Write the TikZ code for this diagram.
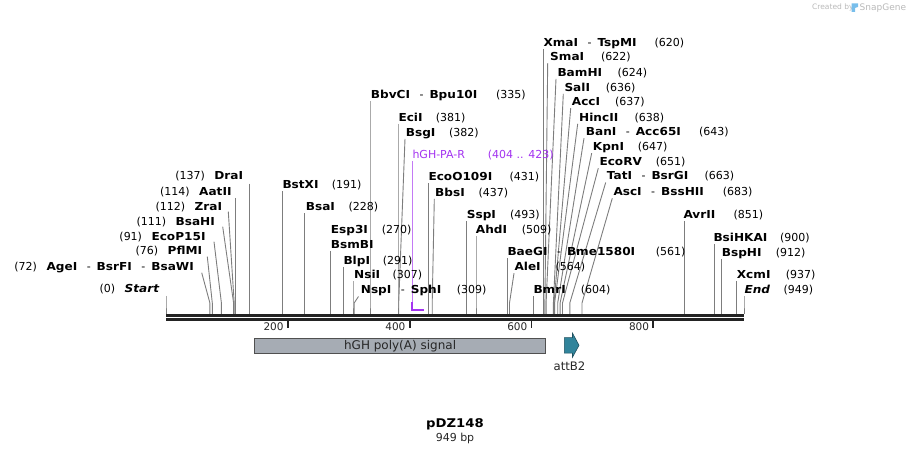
\documentclass[tikz,border=0pt]{standalone}
\usepackage{fontspec}
\setmainfont{DejaVu Sans}
\newfontfamily\namefamily[FakeStretch=1.1]{DejaVu Sans}
\definecolor{conncol}{RGB}{125,125,125}
\definecolor{mapcol}{RGB}{35,35,35}
\definecolor{featfill}{RGB}{166,172,180}
\definecolor{featline}{RGB}{80,80,80}
\definecolor{tealcol}{RGB}{49,132,155}
\definecolor{tealline}{RGB}{30,80,95}
\definecolor{primcol}{RGB}{163,51,240}
\definecolor{credcol}{RGB}{185,185,185}
\definecolor{logocol}{RGB}{120,190,235}
\pgfdeclarelayer{bglines}
\pgfsetlayers{bglines,main}
\newcommand{\enzn}[1]{{\namefamily\bfseries #1}}
\newcommand{\enzit}[1]{{\namefamily\bfseries\itshape #1}}
\newcommand{\dsep}{\hspace{9.5bp}{\normalfont -}\hspace{6bp}}
\tikzset{
  lab/.style={inner sep=0pt, font=\fontsize{11bp}{13bp}\selectfont, anchor=base west, text=black},
  conn/.style={draw=conncol, line width=0.9bp},
  maplinestyle/.style={draw=mapcol},
  tickstyle/.style={draw=mapcol, line width=1.8bp},
}
% right-side label: id, name, number, label x, centre y, number x, site x, line-top x
\newcommand{\RLab}[8]{%
  \node[lab] (n#1) at (#4,#5+4) {#2};
  \node[lab] (m#1) at (#6,#5+4) {#3};
  \coordinate (t#1) at (#8,#5+6.5);
  \coordinate (b#1) at (#7,303);
  \coordinate (s#1) at (#7,314);
  \begin{pgfonlayer}{bglines}\draw[conn] (t#1) -- (b#1) -- (s#1);\end{pgfonlayer}
}
% left-side label: id, text, right x, centre y, site x, top x, top y
\newcommand{\LLab}[7]{%
  \node[lab, anchor=base east] (n#1) at (#3,#4+4) {#2};
  \coordinate (t#1) at (#6,#7);
  \coordinate (b#1) at (#5,303);
  \coordinate (s#1) at (#5,314);
  \begin{pgfonlayer}{bglines}\draw[conn] (t#1) -- (b#1) -- (s#1);\end{pgfonlayer}
}
\begin{document}
\begin{tikzpicture}[x=1bp,y=-1bp]
\useasboundingbox (0,0) rectangle (911,453);

% credit
\node[lab, font=\fontsize{7.5bp}{9bp}\selectfont, text=credcol] (cred) at (812,10) {Created by};
\fill[logocol] (851.5,3.5) rectangle (855,12) (855,3.5) -- (858,3.5) -- (858,7) -- (855,8) -- cycle;
\node[lab, font=\fontsize{9bp}{10bp}\selectfont, text=credcol] (snap) at (859.5,11) {SnapGene};

% left labels
\LLab{137}{(137)\hspace{9.5bp}\enzn{DraI}}{243.3}{176}{249.4}{249.4}{183.7}
\LLab{114}{(114)\hspace{9.5bp}\enzn{AatII}}{231.7}{192}{235.4}{235.4}{198}
\LLab{112}{(112)\hspace{9.5bp}\enzn{ZraI}}{222.3}{206.7}{234.2}{228.3}{211.7}
\LLab{111}{(111)\hspace{9.5bp}\enzn{BsaHI}}{215}{221.7}{233.6}{222.7}{226.7}
\LLab{91}{(91)\hspace{9.5bp}\enzn{EcoP15I}}{205.7}{236.7}{221.4}{214}{241.7}
\LLab{76}{(76)\hspace{9.5bp}\enzn{PflMI}}{202.3}{251}{212.3}{207.3}{256.7}
\LLab{72}{(72)\hspace{9.5bp}\enzn{AgeI}\dsep\enzn{BsrFI}\dsep\enzn{BsaWI}}{194}{266.7}{209.9}{201.7}{272.7}
\LLab{0}{(0)\hspace{9.5bp}\enzit{Start}}{159.3}{289}{166}{166}{296}

% right labels
\RLab{191}{\enzn{BstXI}}{(191)}{282.3}{185}{331.7}{282.3}{282.3}
\RLab{228}{\enzn{BsaI}}{(228)}{305.7}{207}{348.3}{304.9}{304.9}
\node[lab] (n270) at (330.7,234) {\enzn{Esp3I}};
\node[lab] (m270) at (381.7,234) {(270)};
\node[lab] (n270b) at (330.7,248.7) {\enzn{BsmBI}};
\coordinate (t270) at (330.5,251);
\coordinate (s270) at (330.5,314);
\begin{pgfonlayer}{bglines}\draw[conn] (t270) -- (s270);\end{pgfonlayer}
\RLab{291}{\enzn{BlpI}}{(291)}{343.3}{260.3}{382.7}{343.2}{343.2}
\RLab{307}{\enzn{NsiI}}{(307)}{354}{275}{392.3}{353}{353}
\RLab{309}{\enzn{NspI}\dsep\enzn{SphI}}{(309)}{360.7}{290}{456.7}{354.2}{358.5}
\RLab{335}{\enzn{BbvCI}\dsep\enzn{Bpu10I}}{(335)}{370.7}{95}{496}{370}{370}
\RLab{381}{\enzn{EciI}}{(381)}{398.3}{117.3}{435.7}{398}{398}
\RLab{382}{\enzn{BsgI}}{(382)}{405.7}{132.3}{449}{398.7}{405}
\RLab{431}{\enzn{EcoO109I}}{(431)}{428.3}{176.7}{509.3}{428.5}{428.5}
\RLab{437}{\enzn{BbsI}}{(437)}{435}{192.3}{478.3}{432.2}{434.3}
\RLab{493}{\enzn{SspI}}{(493)}{466.7}{215}{510}{466.3}{466.3}
\RLab{509}{\enzn{AhdI}}{(509)}{475.7}{230}{521.7}{476}{476}
\RLab{561}{\enzn{BaeGI}\dsep\enzn{Bme1580I}}{(561)}{507.3}{251.7}{655.7}{507.7}{507.7}
\RLab{564}{\enzn{AleI}}{(564)}{514.3}{266.7}{555.3}{509.5}{514}
\RLab{604}{\enzn{BmrI}}{(604)}{533.3}{290}{580.7}{533.9}{533.9}
\RLab{620}{\enzn{XmaI}\dsep\enzn{TspMI}}{(620)}{543.3}{42.3}{654.3}{543.6}{543.6}
\RLab{622}{\enzn{SmaI}}{(622)}{550}{56.7}{601}{544.9}{547.7}
\RLab{624}{\enzn{BamHI}}{(624)}{557.3}{72.3}{617.3}{546.1}{556}
\RLab{636}{\enzn{SalI}}{(636)}{564.3}{87.3}{605.7}{553.4}{563.3}
\RLab{637}{\enzn{AccI}}{(637)}{571.7}{101.7}{615}{554}{570.7}
\RLab{638}{\enzn{HincII}}{(638)}{579}{117.3}{634.3}{554.6}{577.7}
\RLab{643}{\enzn{BanI}\dsep\enzn{Acc65I}}{(643)}{585.7}{131.7}{699}{557.7}{584}
\RLab{647}{\enzn{KpnI}}{(647)}{592.7}{146.7}{637.7}{560.1}{591.7}
\RLab{651}{\enzn{EcoRV}}{(651)}{599.3}{161.7}{655.7}{562.5}{598.3}
\RLab{663}{\enzn{TatI}\dsep\enzn{BsrGI}}{(663)}{606.7}{176}{704.3}{569.8}{605.7}
\RLab{683}{\enzn{AscI}\dsep\enzn{BssHII}}{(683)}{613.3}{191.7}{722.7}{582}{612.3}
\RLab{851}{\enzn{AvrII}}{(851)}{683.3}{214.3}{733.3}{684.3}{684.3}
\RLab{900}{\enzn{BsiHKAI}}{(900)}{713.3}{237.3}{780}{714.2}{714.2}
\RLab{912}{\enzn{BspHI}}{(912)}{721.7}{252.7}{775.7}{721.5}{721.5}
\RLab{937}{\enzn{XcmI}}{(937)}{736.7}{274.3}{785.7}{736.7}{736.7}
\RLab{949}{\enzit{End}}{(949)}{744.3}{290}{783.3}{744}{744}

% primer hGH-PA-R
\node[lab, text=primcol] (prim) at (412.3,158.7) {hGH-PA-R};
\node[lab, text=primcol] (primn) at (487.7,158.7) {(404 .. 423)};
\coordinate (pt) at (412,161);
\coordinate (pm) at (412,302);
\coordinate (pb) at (412,310.5);
\coordinate (pe) at (423.6,310.5);
\begin{pgfonlayer}{bglines}
\draw[primcol!65, line width=1bp] (pt) -- (pm);
\end{pgfonlayer}
\draw[primcol, line width=2bp] (pm) -- (pb) -- (pe);

% map
\coordinate (m0) at (166,315.3);
\coordinate (m1) at (744,315.3);
\coordinate (m2) at (166,319.5);
\coordinate (m3) at (744,319.5);
\draw[maplinestyle, line width=2.7bp] (m0) -- (m1);
\draw[maplinestyle, line width=2.4bp] (m2) -- (m3);

% ticks
\foreach \p/\xx in {200/287.8, 400/409.6, 600/531.5, 800/653.3}{
  \draw[tickstyle] (\xx,320.5) -- (\xx,328.3);
  \node[lab, anchor=base east, text=black!85, font=\fontsize{10.5bp}{12bp}\selectfont] (tk\p) at (\xx-4,330.7) {\p};
}

% features
\node[draw=featline, fill=featfill, line width=0.9bp, minimum width=290.7bp, minimum height=15.6bp, inner sep=0pt, anchor=north west, font=\fontsize{12bp}{14bp}\selectfont, text=black!85] (polyA) at (254.3,337.7) {hGH poly(A) signal};
\draw[fill=tealcol, draw=tealline, line width=0.6bp] (564.3,337.7) -- (572.5,337.7) -- (572.5,333.2) -- (579,345.3) -- (572.5,357.2) -- (572.5,353.2) -- (564.3,353.2) -- cycle;
\node[lab, anchor=base, text=black!85, font=\fontsize{11.7bp}{14bp}\selectfont] (attb) at (569.5,370.3) {attB2};

% title
\node[lab, anchor=base, font=\fontsize{12bp}{14bp}\selectfont] (title) at (455,427) {\enzn{pDZ148}};
\node[lab, anchor=base, text=black!85] (len) at (455,441) {949 bp};
\end{tikzpicture}
\end{document}
